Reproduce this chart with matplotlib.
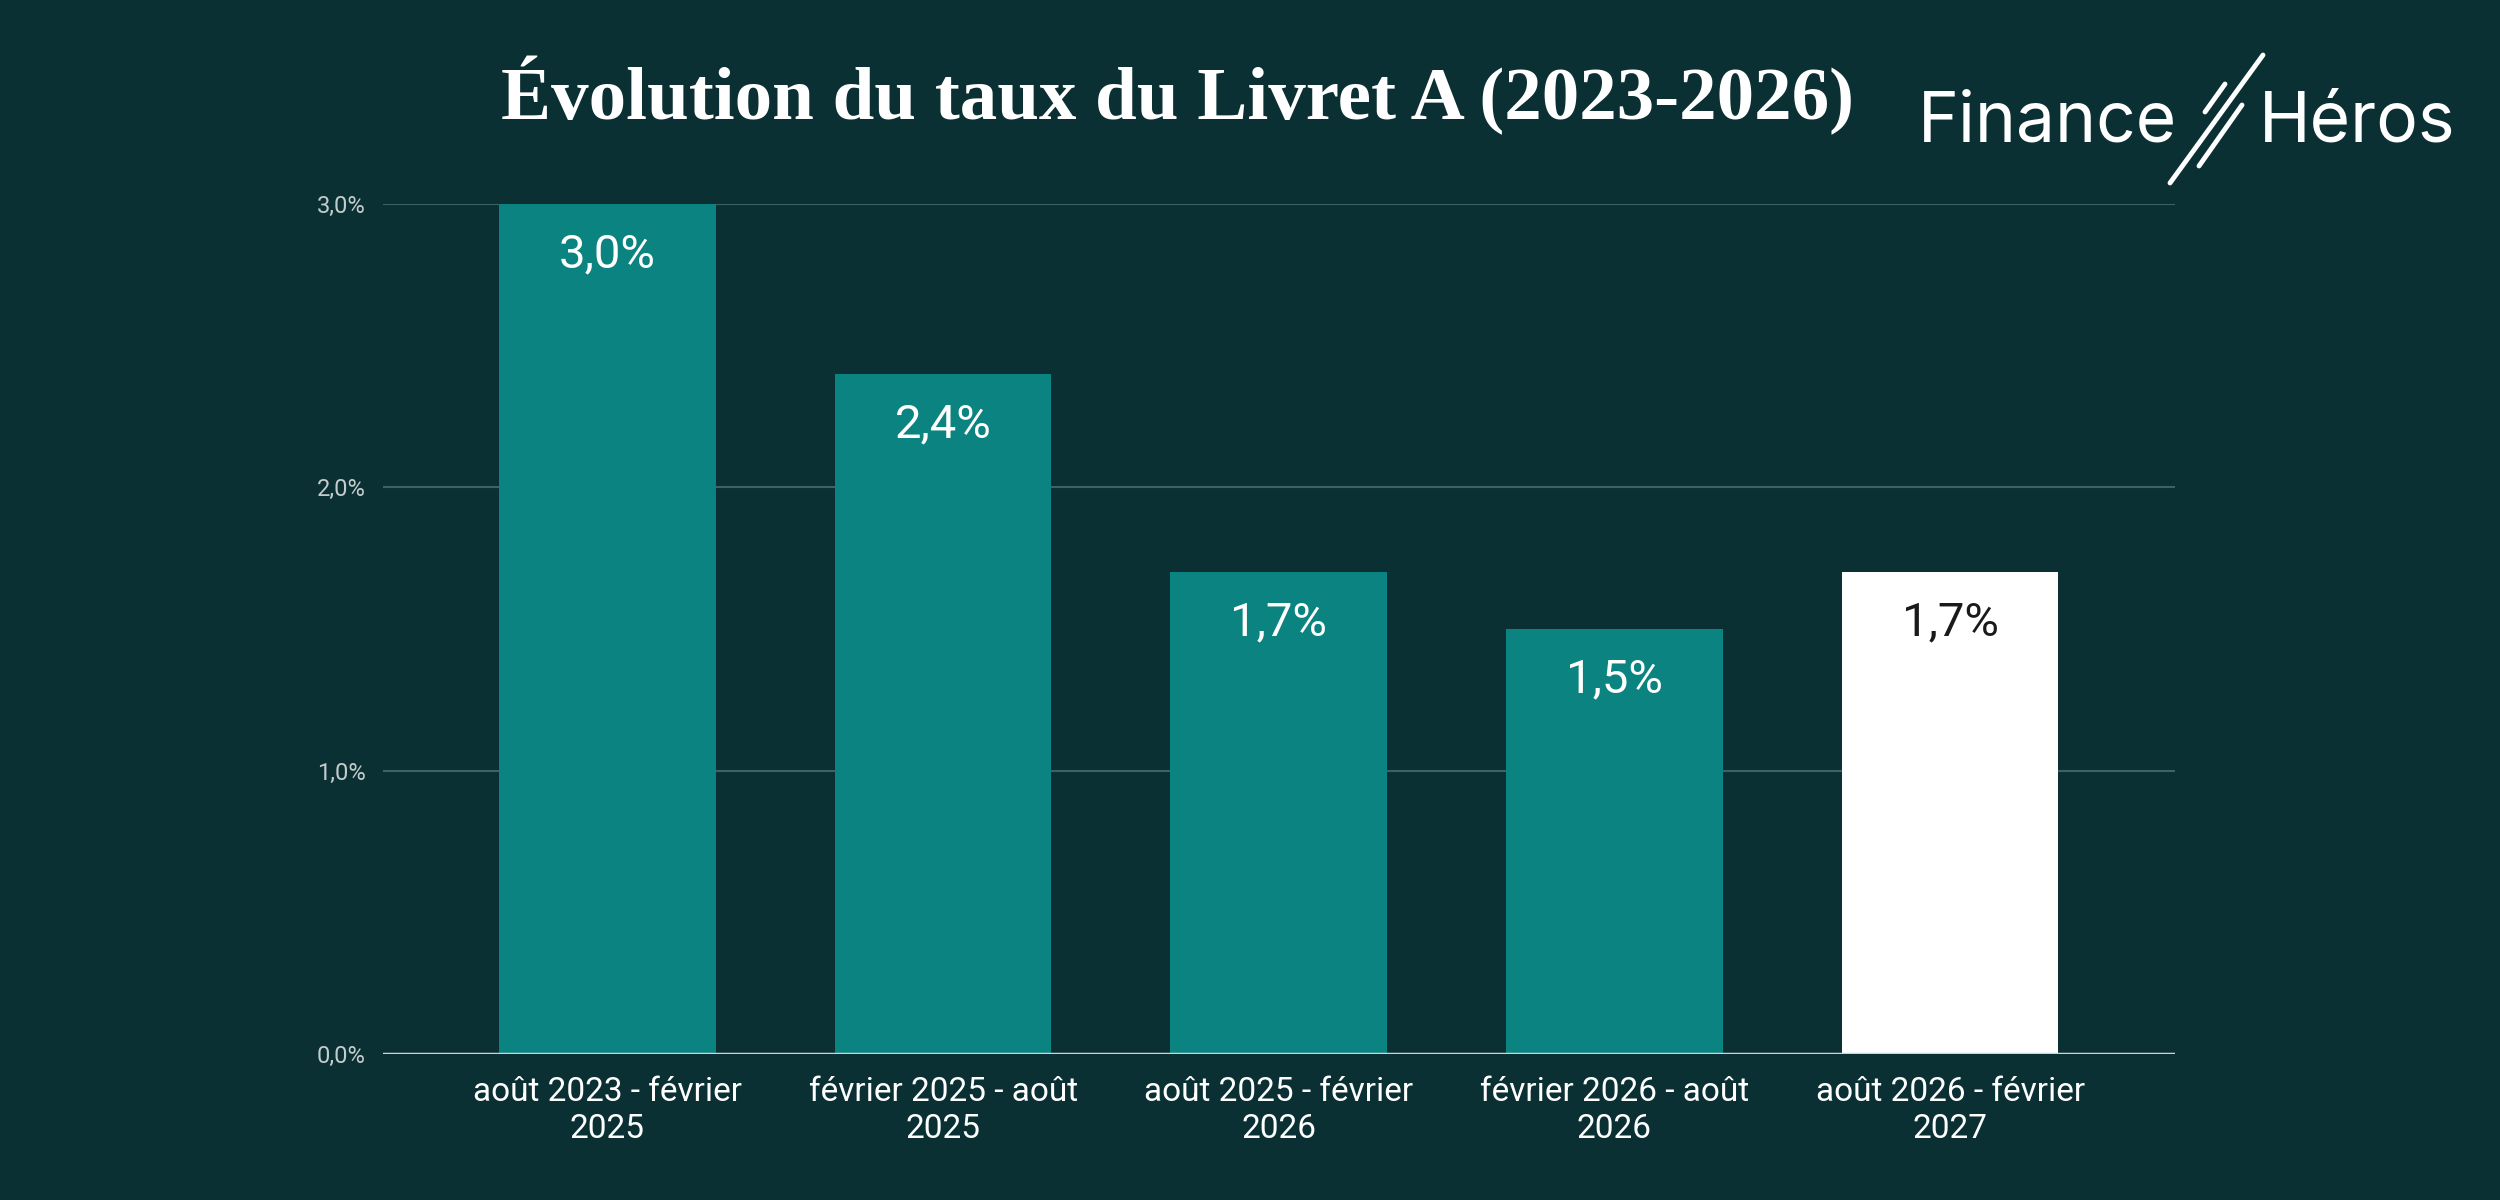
import matplotlib.pyplot as plt
from matplotlib.lines import Line2D

# data
periods = ["août 2023 - février\n2025", "février 2025 - août\n2025", "août 2025 - février\n2026",
           "février 2026 - août\n2026", "août 2026 - février\n2027"]
rates = [3.0, 2.4, 1.7, 1.5, 1.7]
rate_labels = ["3,0%", "2,4%", "1,7%", "1,5%", "1,7%"]
yticks = [0.0, 1.0, 2.0, 3.0]
ytick_labels = ["0,0%", "1,0%", "2,0%", "3,0%"]

bg = "#0b3033"
teal = "#0b8380"
bar_colors = [teal, teal, teal, teal, "white"]
label_colors = ["white", "white", "white", "white", "#1a1a1a"]

fig = plt.figure(figsize=(25, 12), dpi=100, facecolor=bg)
ax = fig.add_axes([0.153, 0.1217, 0.717, 0.7083], facecolor=bg)

x = range(len(rates))
ax.bar(x, rates, width=0.645, color=bar_colors, zorder=3)

for i, (v, lab) in enumerate(zip(rates, rate_labels)):
    ax.annotate(lab, (i, v), xytext=(0, -50), textcoords="offset pixels",
                ha="center", va="center", fontsize=34, family="Roboto",
                color=label_colors[i], zorder=4)

ax.set_xlim(-0.67, 4.67)
ax.set_ylim(0, 3.0)
ax.set_yticks(yticks)
ax.set_yticklabels(ytick_labels)
ax.set_xticks(list(x))
ax.set_xticklabels(periods, linespacing=1.2)

ax.grid(axis="y", color="#3e6264", linewidth=1.5, zorder=1)
ax.axhline(0, color="#c9d6d6", linewidth=2.5, zorder=5)
for s in ax.spines.values():
    s.set_visible(False)
ax.tick_params(axis="both", length=0)
ax.tick_params(axis="y", labelsize=17, labelcolor="#c3cccc", pad=12)
ax.tick_params(axis="x", labelsize=24, labelcolor="white", pad=16)
for t in ax.get_yticklabels() + ax.get_xticklabels():
    t.set_family("Roboto")

# title
fig.text(0.471, 0.92, "Évolution du taux du Livret A (2023-2026)", ha="center", va="center",
         fontsize=54, family="Liberation Serif", fontweight="bold", color="white")

# logo
fig.text(1918 / 2500, 1 - 142 / 1200, "Finance", ha="left", va="baseline",
         fontsize=50, family="Inter", color="white")
fig.text(2259 / 2500, 1 - 142 / 1200, "Héros", ha="left", va="baseline",
         fontsize=50, family="Inter", color="white")
for (x0, y0, x1, y1) in [(2263, 55, 2170, 183), (2242, 105, 2199, 166), (2225, 84, 2205, 112)]:
    fig.add_artist(Line2D([x0 / 2500, x1 / 2500], [1 - y0 / 1200, 1 - y1 / 1200],
                          color="white", linewidth=3.5, solid_capstyle="round"))

fig.savefig("out.png", dpi=100, facecolor=bg)
